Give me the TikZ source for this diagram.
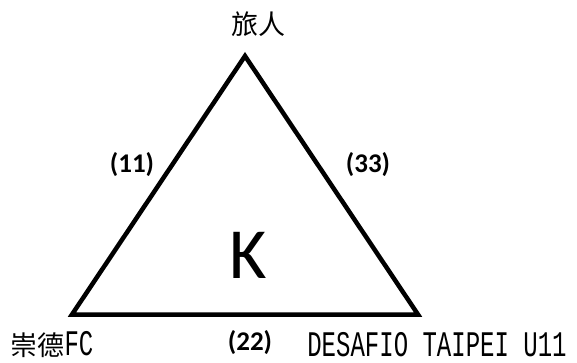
\documentclass[tikz,border=0pt]{standalone}
\usepackage{fontspec}
\setmainfont{Carlito}
\newfontfamily\cjkfont{Noto Sans CJK TC}
\newfontfamily\narrowmono[FakeStretch=0.667]{Liberation Mono}
\usetikzlibrary{math}

\tikzset{
  team/.style={inner sep=0pt, font=\fontsize{27}{27}\selectfont},
  score/.style={inner sep=0pt, font=\fontsize{27}{27}\selectfont\bfseries},
}

\begin{document}
\begin{tikzpicture}[x=1pt,y=-1pt]
\tikzmath{
\W=577; \H=363;
}
\useasboundingbox (0,0) rectangle (\W,\H);

\coordinate (top) at (245,56);
\coordinate (lft) at (72,314.5);
\coordinate (rgt) at (418,314.5);

\draw[line width=4.5] (lft) -- (rgt) -- (top) -- cycle;

\node[team] (teamTop) at (258,24) {\cjkfont 旅人};
\node[team] (teamLeft) at (52,345) {\cjkfont 崇德\narrowmono\fontsize{36}{36}\selectfont FC};
\node[team] (teamRight) at (437,345) {\narrowmono\fontsize{36}{36}\selectfont DESAFIO TAIPEI U11};

\node[score] (s11) at (132,165) {(11)};
\node[score] (s33) at (368,165) {(33)};
\node[score] (s22) at (250,343) {(22)};

\node[inner sep=0pt, font=\fontsize{72}{72}\selectfont] (mid) at (248,255) {K};

\end{tikzpicture}
\end{document}
